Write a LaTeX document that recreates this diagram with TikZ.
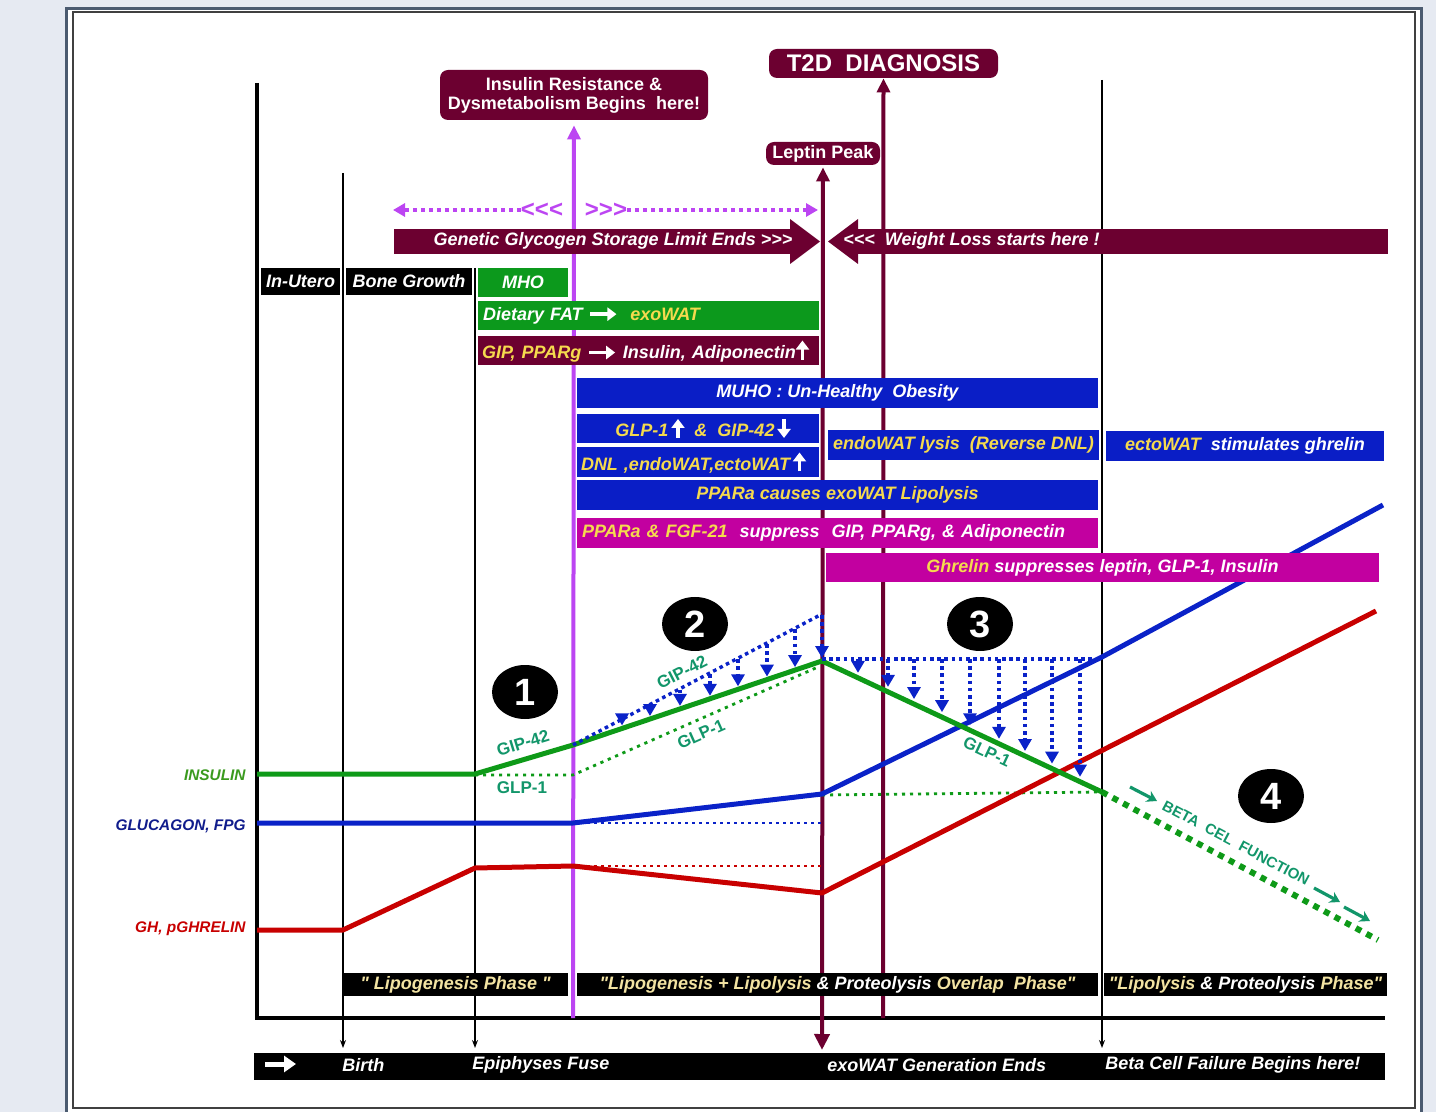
\documentclass[tikz,border=0pt]{standalone}
\usepackage{fontspec}
\setmainfont{Liberation Sans}[Ligatures=TeXOff]
\usetikzlibrary{arrows.meta, positioning, shapes.geometric}
\definecolor{wine}{HTML}{6C0030}
\definecolor{boxgreen}{HTML}{0C991C}
\definecolor{boxblue}{HTML}{0A1EC6}
\definecolor{boxmag}{HTML}{C200A0}
\definecolor{txtyel}{HTML}{F5DA4E}
\definecolor{phyel}{HTML}{F2E3A2}
\definecolor{violetline}{HTML}{BC45F2}
\definecolor{tealtxt}{HTML}{12966A}
\definecolor{curvered}{HTML}{C80000}
\definecolor{curveblue}{HTML}{0A22C8}
\definecolor{curvegreen}{HTML}{0E9A18}
\definecolor{navytxt}{HTML}{101C8C}
\definecolor{insgreen}{HTML}{3A9A1E}
\definecolor{slate}{HTML}{4B5B70}
\definecolor{pagebg}{HTML}{E6EAF2}
\newcommand{\yel}[1]{\textcolor{txtyel}{#1}}
\newcommand{\uparr}{\tikz[baseline=0pt]\draw[white, line width=1.8pt, -{Triangle[length=4.5pt,width=6.5pt]}] (0pt,-0.5pt) -- (0pt,9pt);}
\newcommand{\dnarr}{\tikz[baseline=0pt]\draw[white, line width=1.8pt, -{Triangle[length=4.5pt,width=6.5pt]}] (0pt,9pt) -- (0pt,-0.5pt);}
\newcommand{\rtarr}{\tikz[baseline=0pt]\draw[white, line width=1.8pt, -{Triangle[length=4.5pt,width=6.5pt]}] (0pt,3pt) -- (13pt,3pt);}

\begin{document}
\begin{tikzpicture}[x=0.5pt, y=-0.5pt,
    tbox/.style={rectangle, inner xsep=2.5pt, inner ysep=0pt, text=white,
      font=\bfseries\itshape\fontsize{9}{10}\selectfont},
    lbox/.style={tbox, align=left},
    rbox/.style={rectangle, rounded corners=4pt, fill=wine, text=white, inner sep=0pt,
      font=\bfseries\fontsize{9}{9.5}\selectfont, align=center},
    phasebox/.style={tbox, fill=black, text=phyel, minimum height=11.5pt},
    ylab/.style={anchor=east, inner sep=0pt, font=\bfseries\itshape\fontsize{7.7}{9}\selectfont},
    clab/.style={text=tealtxt, inner sep=0pt, font=\bfseries\fontsize{8.5}{10}\selectfont},
    numc/.style={ellipse, fill=black, text=white, minimum width=33pt, minimum height=27pt,
      inner sep=0pt, font=\bfseries\fontsize{19}{20}\selectfont},
    hcurve/.style={line width=2.5pt, line join=round},
    guide/.style={line width=0.6pt, -{Stealth[length=4pt,width=3pt]}},
    bdot/.style={curveblue, line width=1.7pt, dash pattern=on 1.8pt off 1.8pt,
      -{Triangle[length=6pt,width=6.5pt]}},
    bdotline/.style={curveblue, line width=1.7pt, dash pattern=on 1.8pt off 1.8pt},
    gdot/.style={curvegreen, line width=1.4pt, dash pattern=on 1.6pt off 2.4pt}
  ]
  \useasboundingbox (0,0) rectangle (1436,1112);
  % page and frame
  \fill[pagebg] (0,0) rectangle (1436,1112);
  \fill[white] (66.5,8.5) rectangle (1421.5,1112);
  \draw[slate, line width=1.6pt] (66.5,1112) -- (66.5,8.5) -- (1421.5,8.5) -- (1421.5,1112);
  \draw[black!75, line width=0.6pt] (73,12) rectangle (1415,1108);

  % top boxes
  \node[rbox, minimum width=134pt, minimum height=25pt] (insres) at (574,95)
    {Insulin Resistance \&\\Dysmetabolism Begins\ \ here!};
  \node[rbox, minimum width=114.5pt, minimum height=14.5pt, font=\bfseries\fontsize{12}{13}\selectfont]
    (t2d) at (883.5,63.5) {T2D\ \ DIAGNOSIS};
  \node[rbox, minimum width=57pt, minimum height=11.5pt] (leptin) at (823,153.5) {Leptin Peak};

  % axes
  \draw[line width=2pt] (257,83) -- (257,1018) -- (1385,1018);

  % time guides
  \coordinate (birthtop) at (343,173);
  \coordinate (birthbot) at (343,1048);
  \coordinate (epitop) at (475,268);
  \coordinate (epibot) at (475,1048);
  \coordinate (betatop) at (1102,80);
  \coordinate (betabot) at (1102,1048);
  \draw[guide] (birthtop) -- (birthbot);
  \draw[guide] (epitop) -- (epibot);
  \draw[guide] (betatop) -- (betabot);

  % event lines
  \coordinate (irbot) at (573,1018);
  \coordinate (exobot) at (822,1050);
  \coordinate (t2dbot) at (883,1018);
  \draw[violetline, line width=2pt, -{Triangle[length=7pt,width=6.5pt]}, shorten >=2.5pt] (irbot) -- (insres.south);
  \draw[wine, line width=2pt, {Triangle[length=7pt,width=6.5pt]}-{Triangle[length=8pt,width=7.5pt]}, shorten <=1pt]
    (leptin.south) -- (exobot);
  \draw[wine, line width=2pt, -{Triangle[length=7pt,width=6.5pt]}] (t2dbot) -- (t2d.south);

  % hormone curves
  \draw[gdot] (475,775) -- (573,775) -- (818,667);
  \draw[gdot] (822,795) -- (1102,792);
  \draw[curveblue, line width=1.2pt, dash pattern=on 1.5pt off 2pt] (573,823) -- (822,823);
  \draw[curvered, line width=1.2pt, dash pattern=on 1.5pt off 2pt] (573,866) -- (822,866);
  \draw[hcurve, curvered] (257,930) -- (343,930) -- (475,868) -- (573,866) -- (822,893) -- (1376,611);
  \draw[hcurve, curveblue] (257,823) -- (573,823) -- (822,794) -- (1102,657) -- (1383,505);
  \draw[hcurve, curvegreen] (257,774) -- (475,774) -- (573,745) -- (822,661) -- (1102,792);
  \draw[curvegreen, line width=3pt, dash pattern=on 3pt off 3pt] (1102,792) -- (1378,940);

  % glycogen limit
  \node[violetline, inner sep=0pt, font=\bfseries\fontsize{12}{12}\selectfont] (ltlt) at (542,210) {<<<};
  \node[violetline, inner sep=0pt, font=\bfseries\fontsize{12}{12}\selectfont] (gtgt) at (606,210) {>>>};
  \coordinate (vlft) at (393,210);
  \coordinate (vrgt) at (818,210);
  \draw[violetline, line width=2pt, dash pattern=on 2pt off 2pt, -{Triangle[length=6pt,width=6.5pt]}] (ltlt.west) -- (vlft);
  \draw[violetline, line width=2pt, dash pattern=on 2pt off 2pt, -{Triangle[length=6pt,width=6.5pt]}] (gtgt.east) -- (vrgt);

  \node[tbox, fill=wine, minimum width=198pt, minimum height=12.5pt] (glyc) at (592,241.5) {};
  \fill[wine] (790,219) -- (820,241.5) -- (790,264) -- cycle;
  \node[tbox] (glyctxt) at (613,241) {Genetic Glycogen Storage Limit Ends >>>};
  \node[tbox, fill=wine, minimum width=265pt, minimum height=12.5pt] (wloss) at (1123,241.5) {};
  \fill[wine] (858,219) -- (828,241.5) -- (858,264) -- cycle;
  \node[tbox, anchor=west, inner xsep=0pt] (wlosstxt) at (843,241) {<<<\ \ Weight Loss starts here !};

  % stage boxes
  \node[tbox, fill=black, minimum width=39.5pt, minimum height=13.5pt] (inutero) at (300.5,281.5) {In-Utero};
  \node[tbox, fill=black, minimum width=63pt, minimum height=13.5pt] (bone) at (409,281.5) {Bone Growth};
  \node[tbox, fill=boxgreen, minimum width=45pt, minimum height=14.5pt] (mho) at (523,282.5) {MHO};
  \node[lbox, fill=boxgreen, text width=165.5pt, minimum height=14.5pt] (dietfat) at (648.5,315.5)
    {Dietary FAT\ \rtarr\ \ \yel{exoWAT}};
  \node[lbox, fill=wine, text width=166.5pt, inner xsep=2pt, minimum height=14.5pt] (gip) at (648.5,350.5)
    {\yel{GIP, PPARg}\ \rtarr\ Insulin, Adiponectin\uparr};
  \node[tbox, fill=boxblue, minimum width=260.5pt, minimum height=15pt] (muho) at (837.5,393)
    {MUHO : Un-Healthy\ \ Obesity};
  \node[tbox, fill=boxblue, minimum width=121pt, minimum height=14.5pt] (glp) at (698,428.5)
    {\ \ \yel{GLP-1}\,\uparr\ \ \yel{\&\ \ GIP-42}\,\dnarr};
  \node[lbox, fill=boxblue, text width=117pt, inner xsep=2pt, minimum height=15pt] (dnl) at (698,462)
    {\yel{DNL ,endoWAT,ectoWAT}\,\uparr};
  \node[tbox, fill=boxblue, minimum width=134.5pt, minimum height=15pt] (endowat) at (963.5,445)
    {\yel{endoWAT lysis\ \ (Reverse DNL)}};
  \node[tbox, fill=boxblue, minimum width=139pt, minimum height=15pt] (ectowat) at (1245,446)
    {\yel{ectoWAT}\ \ stimulates ghrelin};
  \node[tbox, fill=boxblue, minimum width=260.5pt, minimum height=15pt] (pparacause) at (837.5,495)
    {\yel{PPARa causes exoWAT Lipolysis}};
  \node[lbox, fill=boxmag, text width=255.5pt, minimum height=15pt] (ppara21) at (837.5,533)
    {\yel{PPARa \& FGF-21}\ \ suppress\ \ GIP, PPARg, \& Adiponectin};
  \node[tbox, fill=boxmag, minimum width=276.5pt, minimum height=14.5pt] (ghrelin) at (1102.5,567.5)
    {\yel{Ghrelin} suppresses leptin, GLP-1, Insulin};

  % incretin effect arrows
  \draw[bdotline] (573,745) -- (822,614);
  \draw[bdotline] (822,659) -- (1100,659);
  \foreach \x in {622,650,680,710,738,767,795,822} {
    \pgfmathsetmacro\yt{745-(\x-575)*0.5263}
    \pgfmathsetmacro\yb{745-(\x-573)*0.3373-3}
    \draw[bdot] (\x,\yt) -- (\x,\yb);
  }
  \foreach \x in {858,888,914,942,970,999,1025,1052,1080} {
    \pgfmathsetmacro\yb{661+(\x-822)*0.468-5}
    \draw[bdot] (\x,659) -- (\x,\yb);
  }

  % beta cell arrows
  \coordinate (ba1) at (1130,787);
  \coordinate (bb1) at (1157,801);
  \coordinate (ba2) at (1314,888);
  \coordinate (bb2) at (1340,902);
  \coordinate (ba3) at (1344,907);
  \coordinate (bb3) at (1370,921);
  \draw[tealtxt, line width=1.6pt, -{Stealth[length=5pt,width=6pt]}] (ba1) -- (bb1);
  \draw[tealtxt, line width=1.6pt, -{Stealth[length=5pt,width=6pt]}] (ba2) -- (bb2);
  \draw[tealtxt, line width=1.6pt, -{Stealth[length=5pt,width=6pt]}] (ba3) -- (bb3);

  % curve labels
  \node[clab, rotate=17] (gip1) at (523,743) {GIP-42};
  \node[clab] (glp1a) at (522,788) {GLP-1};
  \node[clab, rotate=27] (gip2) at (682,672) {GIP-42};
  \node[clab, rotate=24] (glp1b) at (701,734) {GLP-1};
  \node[clab, rotate=-25] (glp1c) at (987,752) {GLP-1};
  \node[clab, rotate=-28, font=\bfseries\fontsize{7.5}{9}\selectfont] (betafn) at (1236,843)
    {BETA\ \ CEL\ \ FUNCTION};

  \node[ylab, text=insgreen] (lins) at (246,775) {INSULIN};
  \node[ylab, text=navytxt] (lglu) at (246,826) {GLUCAGON, FPG};
  \node[ylab, text=curvered] (lgh) at (246,929) {GH, pGHRELIN};

  % numbered stages
  \node[numc] (n1) at (525,692) {1};
  \node[numc] (n2) at (695,624) {2};
  \node[numc] (n3) at (980,624) {3};
  \node[numc] (n4) at (1271,796) {4};

  % phases
  \node[phasebox, minimum width=112.5pt] (phase1) at (455.5,984.5) {"\ Lipogenesis Phase\ "};
  \node[phasebox, minimum width=260.5pt] (phase2) at (837.5,984.5)
    {"Lipogenesis + Lipolysis \textcolor{white}{\& Proteolysis} Overlap\ \ Phase"};
  \node[phasebox, minimum width=139.5pt] (phase3) at (1245.5,984.5)
    {"Lipolysis \textcolor{white}{\& Proteolysis} Phase"};

  % timeline bar
  \node[tbox, fill=black, minimum width=565.5pt, minimum height=13.5pt] (tline) at (819.5,1066.5) {};
  \coordinate (tarrA) at (265,1064);
  \coordinate (tarrB) at (296,1064);
  \draw[white, line width=2.5pt, -{Triangle[length=6pt,width=8pt]}] (tarrA) -- (tarrB);
  \node[tbox, anchor=west, inner xsep=0pt] (birth) at (342,1065) {Birth};
  \node[tbox, anchor=west, inner xsep=0pt] (epiph) at (472,1065) {Epiphyses Fuse};
  \node[tbox, anchor=west, inner xsep=0pt] (exoend) at (827,1065) {exoWAT Generation Ends};
  \node[tbox, anchor=west, inner xsep=0pt] (betafail) at (1105,1065) {Beta Cell Failure Begins here!};
\end{tikzpicture}
\end{document}
